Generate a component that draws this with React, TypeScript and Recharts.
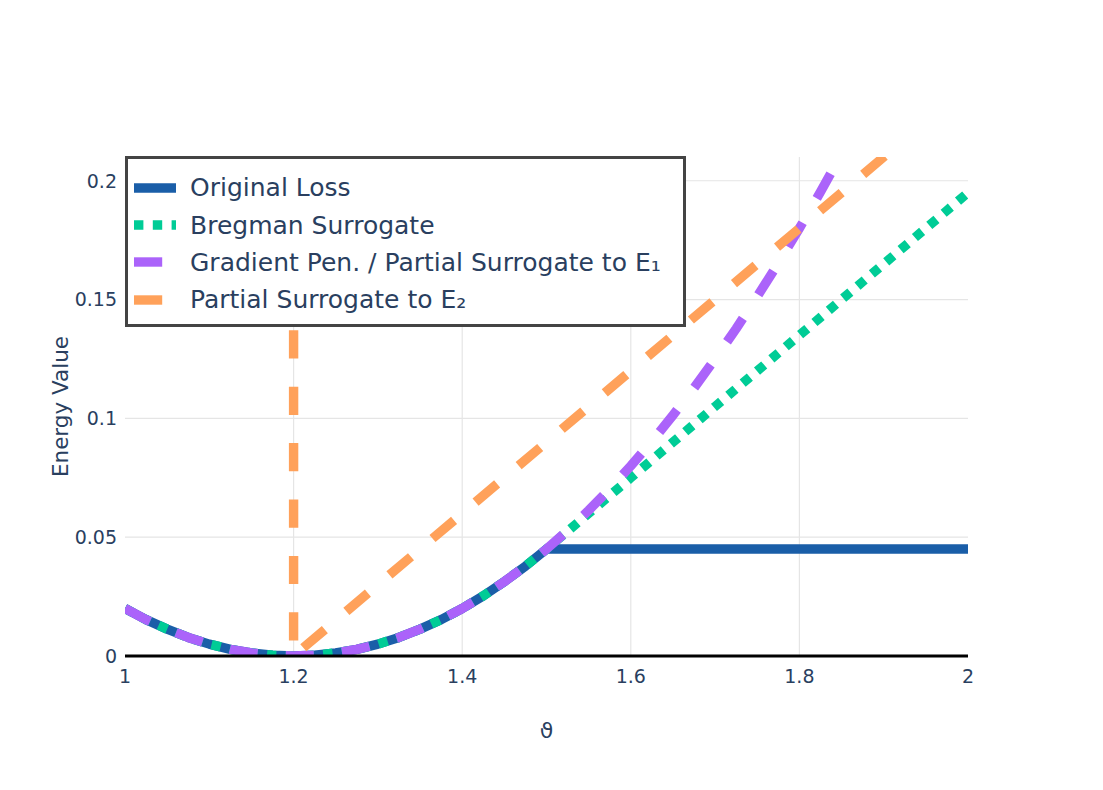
import React from 'react';
import { LineChart, Line, XAxis, YAxis, Legend, ReferenceLine, Label } from 'recharts';

// ---- data ----
const THETA = [
  1, 1.025, 1.05, 1.075, 1.1, 1.125, 1.15, 1.175, 1.2, 1.225, 1.25, 1.275, 1.3, 1.325, 1.35, 1.375, 1.4, 1.425, 1.45, 1.475, 1.5,
  1.525, 1.55, 1.575, 1.6, 1.625, 1.65, 1.675, 1.7, 1.725, 1.75, 1.775, 1.8, 1.825, 1.85, 1.875, 1.9, 1.925, 1.95, 1.975, 2,
];
const ORIGINAL_LOSS = [
  0.02, 0.0153, 0.0113, 0.0078, 0.005, 0.0028, 0.0013, 0.0003, 0, 0.0003, 0.0013, 0.0028, 0.005, 0.0078, 0.0113, 0.0153, 0.02, 0.0253, 0.0313, 0.0378, 0.045,
  0.045, 0.045, 0.045, 0.045, 0.045, 0.045, 0.045, 0.045, 0.045, 0.045, 0.045, 0.045, 0.045, 0.045, 0.045, 0.045, 0.045, 0.045, 0.045, 0.045,
];
const BREGMAN = [
  0.02, 0.0153, 0.0113, 0.0078, 0.005, 0.0028, 0.0013, 0.0003, 0, 0.0003, 0.0013, 0.0028, 0.005, 0.0078, 0.0113, 0.0153, 0.02, 0.0253, 0.0313, 0.0378, 0.045,
  0.0525, 0.06, 0.0675, 0.075, 0.0825, 0.09, 0.0975, 0.105, 0.1125, 0.12, 0.1275, 0.135, 0.1425, 0.15, 0.1575, 0.165, 0.1725, 0.18, 0.1875, 0.195,
];
const GRAD_PEN = [
  0.02, 0.0153, 0.0113, 0.0078, 0.005, 0.0028, 0.0013, 0.0003, 0, 0.0003, 0.0013, 0.0028, 0.005, 0.0078, 0.0113, 0.0153, 0.02, 0.0253, 0.0313, 0.0378, 0.045,
  0.0528, 0.0613, 0.0703, 0.08, 0.0903, 0.1013, 0.1128, 0.125, 0.1378, 0.1513, 0.1653, 0.18, 0.1953, 0.2113, 0.2278, 0.245, 0.2628, 0.2813, 0.3003, 0.32,
];
const E2_THETA = [1.2, 1.2, 1.9, 2];
const E2_VALUES = [0.232, 0, 0.21, 0.24];

const X_TICKS = [1, 1.2, 1.4, 1.6, 1.8, 2];
const X_GRID = [1.2, 1.4, 1.6, 1.8];
const Y_TICKS = [0, 0.05, 0.1, 0.15, 0.2];
const Y_GRID = [0.05, 0.1, 0.15, 0.2];

const LEGEND_NAMES = ['Original Loss', 'Bregman Surrogate', 'Gradient Pen. / Partial Surrogate to E\u2081', 'Partial Surrogate to E\u2082'];

const toPoints = (xs: number[], ys: number[]) => xs.map((x, i) => ({ x, y: ys[i] }));

const FONT = '"DejaVu Sans", Verdana, sans-serif';
const TEXT = '#2a3f5f';
const GRID = '#e5e5e5';
const LW = 9.4;

const SERIES = [
  { name: LEGEND_NAMES[0], color: '#1a5ea8', dash: undefined as string | undefined, data: toPoints(THETA, ORIGINAL_LOSS) },
  { name: LEGEND_NAMES[1], color: '#00cc96', dash: `${LW} ${LW}`, data: toPoints(THETA, BREGMAN) },
  { name: LEGEND_NAMES[2], color: '#ab63fa', dash: `${3 * LW} ${3 * LW}`, data: toPoints(THETA, GRAD_PEN) },
  { name: LEGEND_NAMES[3], color: '#ffa15a', dash: `${3 * LW} ${3 * LW}`, data: toPoints(E2_THETA, E2_VALUES) },
];

const LegendBox = () => (
  <div
    style={{
      boxSizing: 'border-box',
      width: 561,
      height: 171,
      border: '3px solid #444',
      background: '#fff',
      paddingTop: 10,
      paddingLeft: 6,
      fontFamily: FONT,
    }}
  >
    {SERIES.map((s) => (
      <div key={s.name} style={{ display: 'flex', alignItems: 'center', height: 37.4 }}>
        <svg width={42} height={12} style={{ display: 'block' }}>
          <line x1={0} y1={6} x2={42} y2={6} stroke={s.color} strokeWidth={LW} strokeDasharray={s.dash} />
        </svg>
        <span style={{ marginLeft: 14, fontSize: 25, color: TEXT, whiteSpace: 'nowrap', lineHeight: '37px' }}>{s.name}</span>
      </div>
    ))}
  </div>
);

export default function App() {
  return (
    <div style={{ position: 'absolute', left: 0, top: 0, width: 1103, height: 790, background: '#fff' }}>
      <LineChart width={1103} height={790} margin={{ top: 157, right: 135, bottom: 0, left: 0 }}>
        {Y_GRID.map((g) => (
          <ReferenceLine key={`h${g}`} y={g} stroke={GRID} strokeWidth={1.2} />
        ))}
        {X_GRID.map((g) => (
          <ReferenceLine key={`v${g}`} x={g} stroke={GRID} strokeWidth={1.2} />
        ))}
        <XAxis
          type="number"
          dataKey="x"
          domain={[1, 2]}
          ticks={X_TICKS}
          interval={0}
          allowDataOverflow
          height={134}
          tickLine={false}
          tickSize={0}
          tickMargin={14}
          axisLine={{ stroke: '#000', strokeWidth: 3 }}
          tick={{ fill: TEXT, fontSize: 19, fontFamily: FONT }}
        >
          <Label
            content={({ viewBox }: any) => (
              <text x={viewBox.x + viewBox.width / 2} y={viewBox.y + 82} textAnchor="middle" fill={TEXT} fontSize={22} fontFamily={FONT}>
                {'\u03d1'}
              </text>
            )}
          />
        </XAxis>
        <YAxis
          type="number"
          domain={[0, 0.21]}
          ticks={Y_TICKS}
          interval={0}
          allowDataOverflow
          width={125}
          tickLine={false}
          tickSize={0}
          tickMargin={8}
          axisLine={false}
          tick={{ fill: TEXT, fontSize: 19, fontFamily: FONT }}
        >
          <Label
            content={({ viewBox }: any) => {
              const cx = 60;
              const cy = viewBox.y + viewBox.height / 2;
              return (
                <text x={cx} y={cy} transform={`rotate(-90, ${cx}, ${cy})`} textAnchor="middle" dominantBaseline="central" fill={TEXT} fontSize={21.5} fontFamily={FONT}>
                  Energy Value
                </text>
              );
            }}
          />
        </YAxis>
        {SERIES.map((s) => (
          <Line
            key={s.name}
            name={s.name}
            data={s.data}
            dataKey="y"
            type="linear"
            stroke={s.color}
            strokeWidth={LW}
            strokeDasharray={s.dash}
            strokeLinejoin="round"
            dot={false}
            activeDot={false}
            isAnimationActive={false}
          />
        ))}
        <Legend
          layout="vertical"
          align="center"
          verticalAlign="middle"
          content={() => <LegendBox />}
          wrapperStyle={{ left: 125, top: 156, width: 561, height: 171 }}
        />
      </LineChart>
    </div>
  );
}
